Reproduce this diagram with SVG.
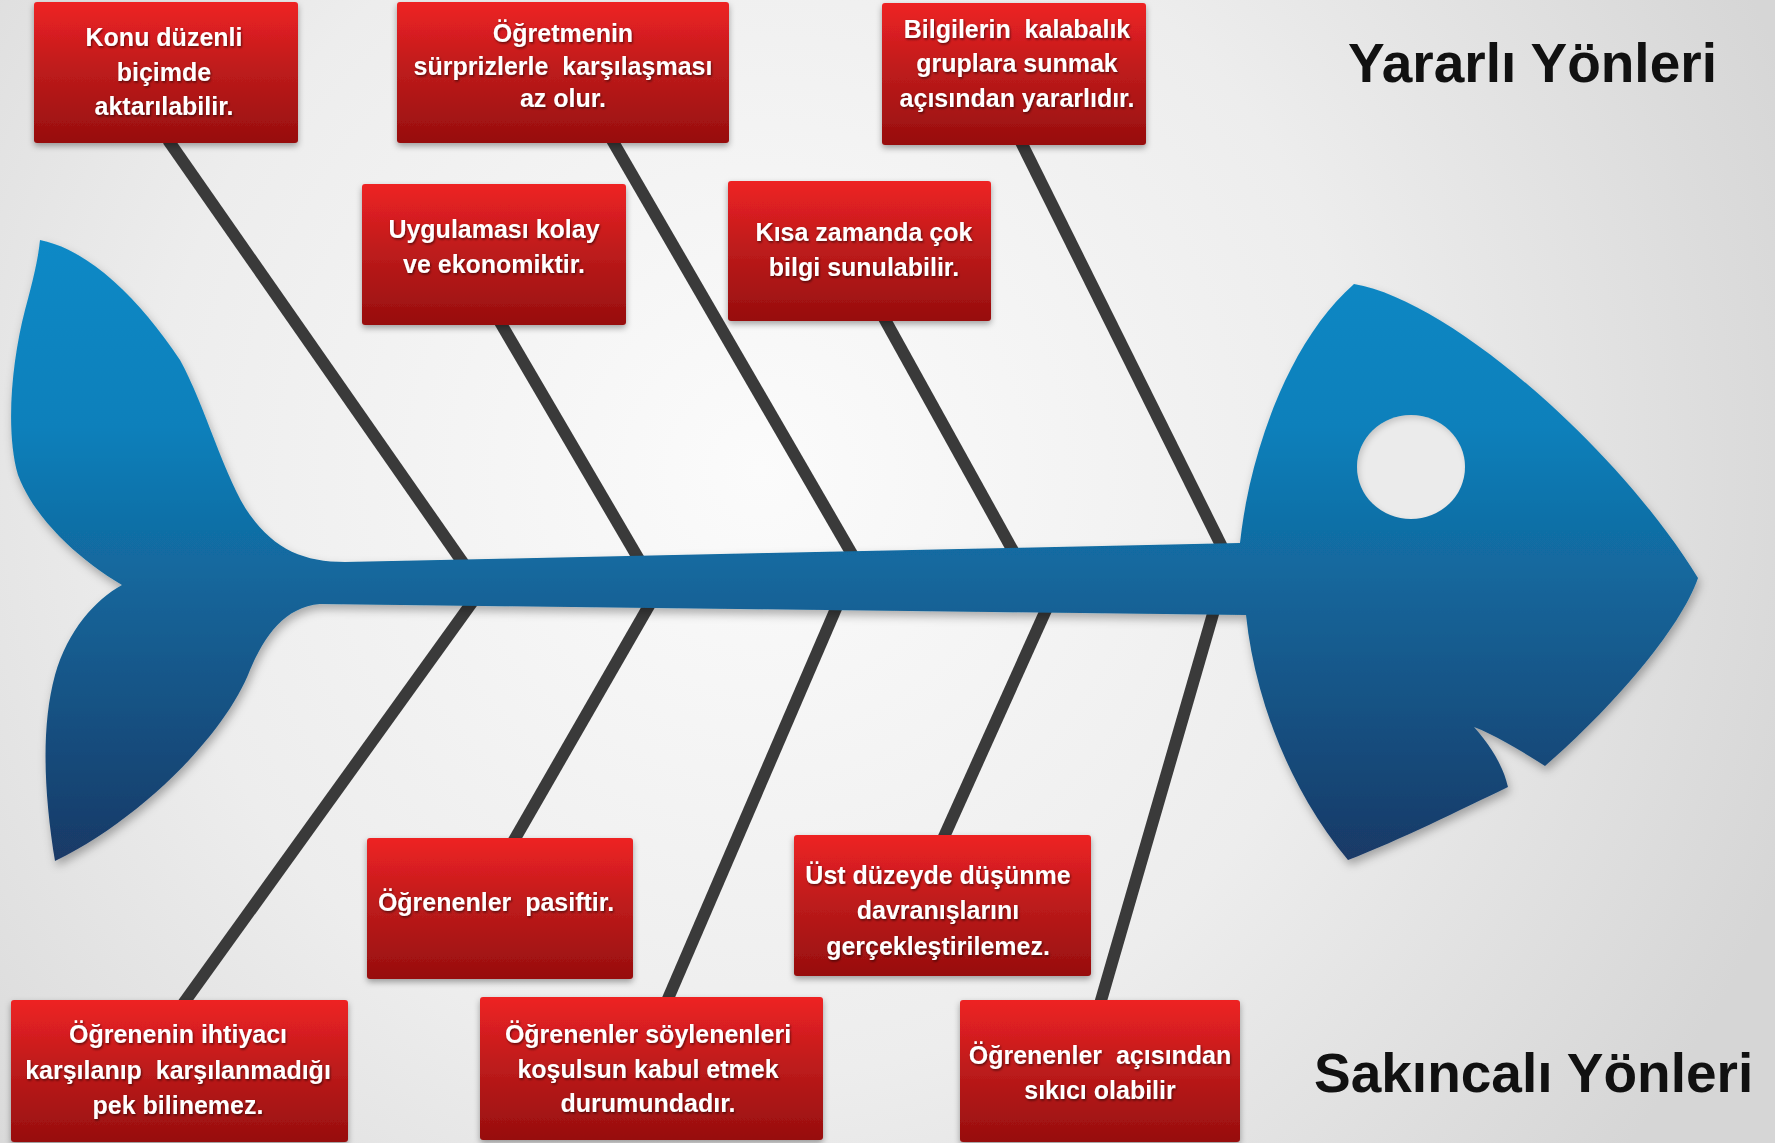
<svg xmlns="http://www.w3.org/2000/svg" width="1775" height="1143" viewBox="0 0 1775 1143">
<defs>
<radialGradient id="bg" cx="760" cy="470" r="1100" gradientUnits="userSpaceOnUse">
<stop offset="0" stop-color="#fbfbfb"/>
<stop offset="0.55" stop-color="#ededed"/>
<stop offset="1" stop-color="#d6d6d6"/>
</radialGradient>
<linearGradient id="fishg" x1="0" y1="240" x2="0" y2="862" gradientUnits="userSpaceOnUse">
<stop offset="0" stop-color="#0b89c6"/>
<stop offset="0.3" stop-color="#0d80bb"/>
<stop offset="0.55" stop-color="#13669b"/>
<stop offset="1" stop-color="#1a3966"/>
</linearGradient>
<linearGradient id="redg" x1="0" y1="0" x2="0" y2="1">
<stop offset="0" stop-color="#ee2224"/>
<stop offset="0.45" stop-color="#c01c1c"/>
<stop offset="1" stop-color="#970e0e"/>
</linearGradient>
<filter id="boxsh" x="-10%" y="-10%" width="120%" height="130%">
<feDropShadow dx="0" dy="3" stdDeviation="3" flood-color="#000" flood-opacity="0.35"/>
</filter>
<filter id="fishsh" x="-5%" y="-5%" width="110%" height="115%">
<feDropShadow dx="2" dy="5" stdDeviation="5" flood-color="#000" flood-opacity="0.3"/>
</filter>
<filter id="txtsh" x="-5%" y="-20%" width="110%" height="140%">
<feDropShadow dx="1" dy="1.5" stdDeviation="0.8" flood-color="#000" flood-opacity="0.55"/>
</filter>
<filter id="eyesh" x="-20%" y="-20%" width="140%" height="140%">
<feGaussianBlur in="SourceAlpha" stdDeviation="3" result="b"/>
<feOffset dx="2" dy="3" result="o"/>
<feComposite in="SourceAlpha" in2="o" operator="out" result="inner"/>
<feFlood flood-color="#000" flood-opacity="0.35"/>
<feComposite in2="inner" operator="in" result="s"/>
<feMerge><feMergeNode in="SourceGraphic"/><feMergeNode in="s"/></feMerge>
</filter>
</defs>
<style>
.box{fill:url(#redg);filter:url(#boxsh);}
.bt{font-family:"Liberation Sans",Arial,sans-serif;font-weight:bold;font-size:25px;fill:#ffffff;text-anchor:middle;filter:url(#txtsh);}
.title{font-family:"Liberation Sans",Arial,sans-serif;font-weight:bold;font-size:55px;fill:#111111;}
.bone{stroke:#3a3a3a;stroke-width:12;fill:none;stroke-linecap:butt;}
</style>
<rect x="0" y="0" width="1775" height="1143" fill="url(#bg)"/>

<g id="connectors">
<line class="bone" x1="168" y1="140" x2="468" y2="570"/>
<line class="bone" x1="500" y1="322" x2="644" y2="568"/>
<line class="bone" x1="612" y1="140" x2="856" y2="561"/>
<line class="bone" x1="884" y1="318" x2="1017" y2="558"/>
<line class="bone" x1="1021" y1="142" x2="1224" y2="551"/>
<line class="bone" x1="481" y1="590" x2="183" y2="1004"/>
<line class="bone" x1="658" y1="590" x2="513" y2="842"/>
<line class="bone" x1="844" y1="590" x2="667" y2="1001"/>
<line class="bone" x1="1055" y1="590" x2="943" y2="839"/>
<line class="bone" x1="1217" y1="600" x2="1100" y2="1004"/>
</g>

<g id="fish">
<path filter="url(#fishsh)" fill="url(#fishg)" d="M 40,240 C 90,250 140,300 180,360 C 205,405 225,480 250,515 C 275,550 305,562 345,562 L 1240,543 C 1250,450 1290,340 1354,284 C 1450,300 1620,450 1698,578 C 1680,630 1610,710 1545,766 C 1520,750 1495,735 1474,727 C 1490,745 1503,765 1508,787 C 1460,810 1400,840 1348,860 C 1290,790 1255,700 1246,615 L 320,604 C 285,607 265,635 250,670 C 225,735 140,820 55,861 C 45,800 40,730 55,675 C 68,630 95,600 122,585 C 80,560 35,520 18,475 C 5,430 12,360 25,310 C 33,280 38,260 40,240 Z"/>
<ellipse cx="1411" cy="467" rx="54" ry="52" fill="#ebebeb" filter="url(#eyesh)"/>
</g>

<g id="n1">
<rect class="box" x="34" y="2" width="264" height="141" rx="3"/>
<text class="bt" x="164" y="46">Konu düzenli</text>
<text class="bt" x="164" y="81">biçimde</text>
<text class="bt" x="164" y="115">aktarılabilir.</text>
</g>
<g id="n2">
<rect class="box" x="397" y="2" width="332" height="141" rx="3"/>
<text class="bt" x="563" y="42">Öğretmenin</text>
<text class="bt" x="563" y="75" xml:space="preserve">sürprizlerle  karşılaşması</text>
<text class="bt" x="563" y="107">az olur.</text>
</g>
<g id="n3">
<rect class="box" x="882" y="3" width="264" height="142" rx="3"/>
<text class="bt" x="1017" y="38" xml:space="preserve">Bilgilerin  kalabalık</text>
<text class="bt" x="1017" y="72">gruplara sunmak</text>
<text class="bt" x="1017" y="107">açısından yararlıdır.</text>
</g>
<g id="n4">
<rect class="box" x="362" y="184" width="264" height="141" rx="3"/>
<text class="bt" x="494" y="238">Uygulaması kolay</text>
<text class="bt" x="494" y="273">ve ekonomiktir.</text>
</g>
<g id="n5">
<rect class="box" x="728" y="181" width="263" height="140" rx="3"/>
<text class="bt" x="864" y="241">Kısa zamanda çok</text>
<text class="bt" x="864" y="276">bilgi sunulabilir.</text>
</g>
<g id="n6">
<rect class="box" x="11" y="1000" width="337" height="142" rx="3"/>
<text class="bt" x="178" y="1043">Öğrenenin ihtiyacı</text>
<text class="bt" x="178" y="1079" xml:space="preserve">karşılanıp  karşılanmadığı</text>
<text class="bt" x="178" y="1114">pek bilinemez.</text>
</g>
<g id="n7">
<rect class="box" x="367" y="838" width="266" height="141" rx="3"/>
<text class="bt" x="496" y="911" xml:space="preserve">Öğrenenler  pasiftir.</text>
</g>
<g id="n8">
<rect class="box" x="480" y="997" width="343" height="143" rx="3"/>
<text class="bt" x="648" y="1043">Öğrenenler söylenenleri</text>
<text class="bt" x="648" y="1078">koşulsun kabul etmek</text>
<text class="bt" x="648" y="1112">durumundadır.</text>
</g>
<g id="n9">
<rect class="box" x="794" y="835" width="297" height="141" rx="3"/>
<text class="bt" x="938" y="884">Üst düzeyde düşünme</text>
<text class="bt" x="938" y="919">davranışlarını</text>
<text class="bt" x="938" y="955">gerçekleştirilemez.</text>
</g>
<g id="n10">
<rect class="box" x="960" y="1000" width="280" height="142" rx="3"/>
<text class="bt" x="1100" y="1064" xml:space="preserve">Öğrenenler  açısından</text>
<text class="bt" x="1100" y="1099">sıkıcı olabilir</text>
</g>

<g id="titles">
<text class="title" x="1348" y="82">Yararlı Yönleri</text>
<text class="title" x="1314" y="1092">Sakıncalı Yönleri</text>
</g>
</svg>
